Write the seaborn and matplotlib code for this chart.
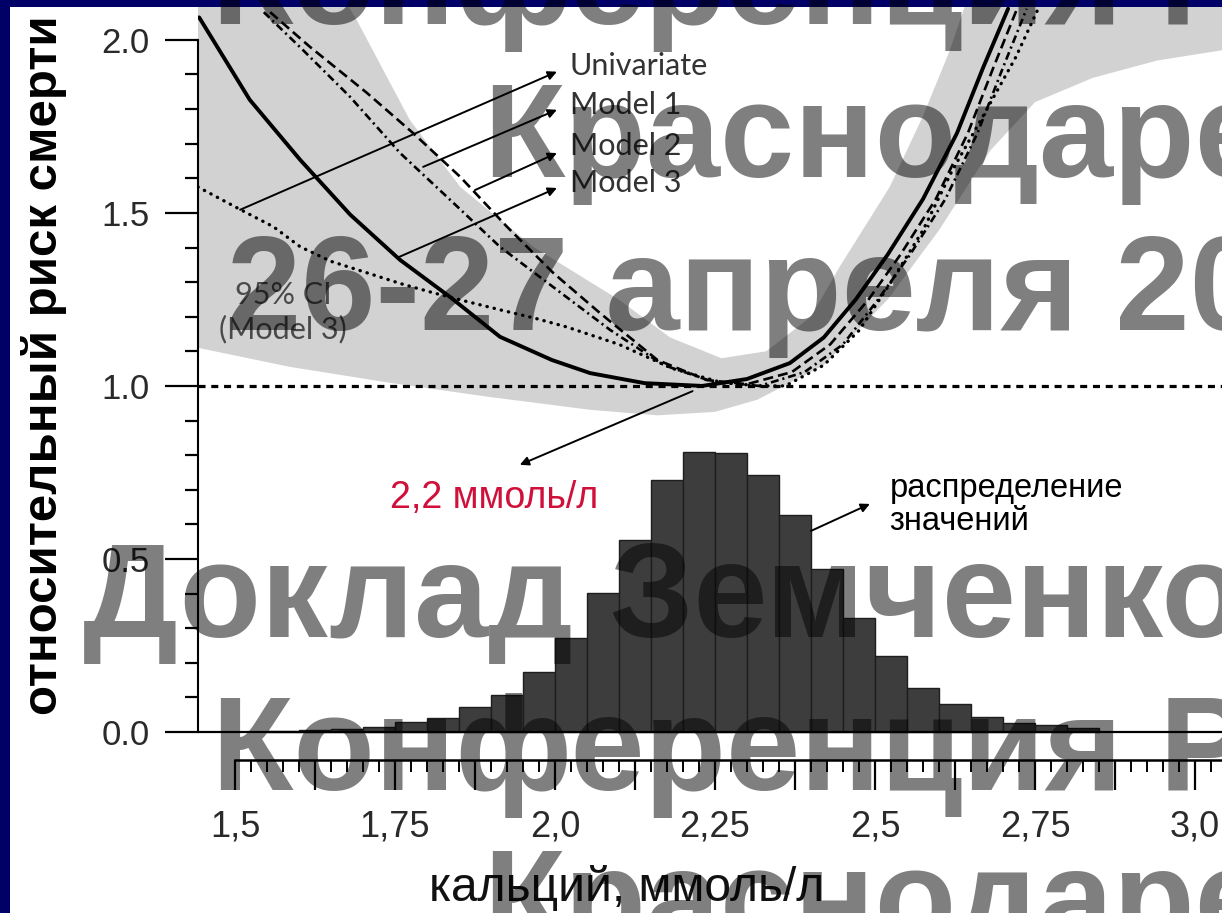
import numpy as np
import pandas as pd
import matplotlib.pyplot as plt
import matplotlib.ticker as mticker
from matplotlib.patches import Rectangle
import seaborn as sns

# ---- values ----
# histogram of calcium values (bin centre, bar height on the risk axis)
hist_centers = [1.575, 1.625, 1.675, 1.725, 1.775, 1.825, 1.875, 1.925, 1.975,
                2.025, 2.075, 2.125, 2.175, 2.225, 2.275, 2.325, 2.375, 2.425,
                2.475, 2.525, 2.575, 2.625, 2.675, 2.725, 2.775, 2.825]
hist_heights = [0.003, 0.005, 0.008, 0.015, 0.03, 0.04, 0.072, 0.107, 0.173,
                0.272, 0.402, 0.555, 0.728, 0.809, 0.806, 0.743, 0.627, 0.47,
                0.33, 0.22, 0.128, 0.08, 0.042, 0.026, 0.02, 0.012]

# univariate (dotted)
univ_x = [1.442, 1.508, 1.56, 1.602, 1.65, 1.706, 1.76, 1.81, 1.86, 1.914, 1.97,
          2.019, 2.10, 2.184, 2.26, 2.32, 2.36, 2.42, 2.475, 2.525, 2.575, 2.62,
          2.675, 2.72, 2.755]
univ_y = [1.575, 1.51, 1.46, 1.402, 1.36, 1.327, 1.295, 1.269, 1.245, 1.22, 1.195,
          1.17, 1.12, 1.05, 1.01, 1.0, 1.0, 1.06, 1.16, 1.30, 1.45, 1.62,
          1.80, 1.95, 2.09]
# model 1 (dashed)
m1_x = [1.555, 1.617, 1.706, 1.778, 1.852, 1.925, 1.997, 2.07, 2.16, 2.237, 2.30,
        2.37, 2.43, 2.49, 2.54, 2.595, 2.645, 2.685, 2.722]
m1_y = [2.08, 1.98, 1.847, 1.731, 1.604, 1.46, 1.327, 1.211, 1.075, 1.017, 1.005,
        1.04, 1.12, 1.25, 1.38, 1.54, 1.73, 1.92, 2.09]
# model 2 (dash-dot)
m2_x = [1.545, 1.606, 1.68, 1.758, 1.836, 1.914, 1.997, 2.086, 2.17, 2.25, 2.32,
        2.39, 2.45, 2.505, 2.555, 2.61, 2.66, 2.70, 2.737]
m2_y = [2.08, 1.971, 1.835, 1.673, 1.538, 1.402, 1.286, 1.162, 1.06, 1.01, 1.0,
        1.04, 1.12, 1.25, 1.38, 1.54, 1.73, 1.92, 2.09]
# model 3 (solid)
m3_x = [1.444, 1.523, 1.602, 1.68, 1.758, 1.836, 1.914, 1.995, 2.055, 2.14, 2.23,
        2.30, 2.367, 2.42, 2.47, 2.52, 2.575, 2.628, 2.669, 2.708]
m3_y = [2.065, 1.827, 1.653, 1.495, 1.364, 1.257, 1.142, 1.075, 1.037, 1.008, 1.0,
        1.02, 1.066, 1.14, 1.25, 1.38, 1.54, 1.73, 1.92, 2.09]

# 95% CI of model 3 (grey band)
ci_up_x = [1.4422, 1.66, 1.69, 1.773, 1.852, 1.966, 2.10, 2.18, 2.26, 2.33, 2.40,
           2.445, 2.523, 2.575, 2.617, 2.65, 3.0422]
ci_up_y = [2.2, 2.15, 2.058, 1.769, 1.575, 1.402, 1.249, 1.14, 1.08, 1.10, 1.2,
           1.345, 1.575, 1.78, 1.97, 2.15, 2.2]
ci_lo_x = [1.4422, 1.586, 1.742, 1.898, 2.055, 2.16, 2.25, 2.316, 2.42, 2.52, 2.60,
           2.68, 2.75, 2.84, 2.94, 3.0422]
ci_lo_y = [1.11, 1.055, 1.009, 0.968, 0.931, 0.915, 0.925, 0.96, 1.06, 1.25, 1.45,
           1.68, 1.82, 1.89, 1.94, 1.97]

legend_labels = ["Univariate", "Model 1", "Model 2", "Model 3"]
legend_y = [1.925, 1.812, 1.692, 1.587]
arrow_start = [(1.508, 1.509), (1.794, 1.633), (1.875, 1.566), (1.753, 1.37)]
arrow_end_y = [1.908, 1.798, 1.673, 1.572]

x_ticks = [1.5, 1.625, 1.75, 1.875, 2.0, 2.125, 2.25, 2.375, 2.5, 2.625, 2.75, 2.875, 3.0]
x_ticklabels = ["1,5", "", "1,75", "", "2,0", "", "2,25", "", "2,5", "", "2,75", "", "3,0"]
y_ticks = [0.0, 0.5, 1.0, 1.5, 2.0]
y_ticklabels = ["0.0", "0.5", "1.0", "1.5", "2.0"]

watermark = ["Конференция Р", "Краснодаре", "26-27 апреля 20",
             "Доклад Земченко", "Конференция Р", "Краснодаре"]
wm_left = [212, 483, 227, 83, 212, 483]      # pixels
wm_base = [24, 177, 330, 637, 790, 943]

# ---- drawing ----
sns.set_theme(style="ticks")
plt.rcParams['font.family'] = ['Liberation Sans', 'DejaVu Sans']

W, H = 1222, 913
fig = plt.figure(figsize=(W / 100, H / 100), dpi=100, facecolor='#000066')
fig.add_artist(Rectangle((10 / W, 0), 1, 1 - 7 / H, transform=fig.transFigure,
                         facecolor='white', edgecolor='none', zorder=-10))

ax = fig.add_axes([198 / W, (H - 760) / H, (W - 198) / W, 753 / H])
ax.set_facecolor('white')

# CI band
band_x = ci_up_x + ci_lo_x[::-1]
band_y = ci_up_y + ci_lo_y[::-1]
ax.fill(band_x, band_y, color='#d2d2d2', lw=0, zorder=1)

# histogram of values
df_hist = pd.DataFrame({'ca': hist_centers, 'h': hist_heights})
sns.histplot(data=df_hist, x='ca', weights='h', binwidth=0.05, binrange=(1.55, 2.85),
             ax=ax, color='#3d3d3d', edgecolor='#1e1e1e', linewidth=1, alpha=1)

ax.axhline(0, color='black', lw=1.6, zorder=3)
ax.axhline(1.0, color='black', lw=2.3, linestyle=(0, (2.2, 1.8)), zorder=3)

sns.lineplot(x=univ_x, y=univ_y, ax=ax, color='black', lw=2.4, errorbar=None,
             linestyle=(0, (0.1, 2.1)), dash_capstyle='round', zorder=4)
sns.lineplot(x=m1_x, y=m1_y, ax=ax, color='black', lw=1.9, errorbar=None,
             linestyle=(0, (3.8, 1.9)), zorder=4)
sns.lineplot(x=m2_x, y=m2_y, ax=ax, color='black', lw=1.9, errorbar=None,
             linestyle=(0, (3.0, 1.5, 0.8, 1.5)), zorder=4)
sns.lineplot(x=m3_x, y=m3_y, ax=ax, color='black', lw=2.8, errorbar=None, zorder=5)

ax.set_xlim(1.4422, 3.0422)
ax.set_ylim(-0.081, 2.095)
ax.set_xlabel('')
ax.set_ylabel('')

for s in ['top', 'right']:
    ax.spines[s].set_visible(False)
ax.spines['left'].set_bounds(0, 2.0)
ax.spines['bottom'].set_bounds(1.5, 3.0422)
ax.spines['left'].set_linewidth(1.5)
ax.spines['bottom'].set_linewidth(1.8)
ax.spines['left'].set_color('black')
ax.spines['bottom'].set_color('black')

ax.yaxis.set_major_locator(mticker.FixedLocator(y_ticks))
ax.yaxis.set_major_formatter(mticker.FixedFormatter(y_ticklabels))
ax.yaxis.set_minor_locator(mticker.MultipleLocator(0.1))
ax.xaxis.set_major_locator(mticker.FixedLocator(x_ticks))
ax.xaxis.set_major_formatter(mticker.FixedFormatter(x_ticklabels))
ax.xaxis.set_minor_locator(mticker.FixedLocator(np.arange(1.5, 3.045, 0.025)))

ax.tick_params(axis='y', which='major', direction='out', length=24, width=1.6,
               pad=11, labelsize=25, labelcolor='#2a2a2a', color='black')
ax.tick_params(axis='y', which='minor', direction='out', length=9.5, width=1.6, color='black')
ax.tick_params(axis='x', which='major', direction='out', length=21.6, width=1.6,
               pad=14, labelsize=26, labelcolor='#2a2a2a', color='black')
ax.tick_params(axis='x', which='minor', direction='out', length=8.6, width=1.4, color='black')

# legend labels with arrows
for lab, ly, (sx, sy), ey in zip(legend_labels, legend_y, arrow_start, arrow_end_y):
    ax.annotate('', xy=(2.003, ey), xytext=(sx, sy),
                arrowprops=dict(arrowstyle='-|>', color='black', lw=1.4,
                                mutation_scale=13, shrinkA=0, shrinkB=0), zorder=6)
    ax.text(2.023, ly, lab, fontsize=22, family=['Lato', 'DejaVu Sans'],
            color='#333333', va='center', ha='left', zorder=6)

ax.text(1.575, 1.214, "95% CI\n(Model 3)", fontsize=22, family=['Lato', 'DejaVu Sans'],
        color='#4a4a4a', ha='center', va='center', linespacing=1.25, zorder=6)

ax.annotate('', xy=(1.945, 0.772), xytext=(2.215, 0.985),
            arrowprops=dict(arrowstyle='-|>', color='black', lw=1.4,
                            mutation_scale=13, shrinkA=0, shrinkB=0), zorder=6)
ax.text(1.905, 0.676, "2,2 ммоль/л", fontsize=27, color='#d0103a',
        ha='center', va='center', zorder=6)

ax.annotate('', xy=(2.492, 0.659), xytext=(2.40, 0.581),
            arrowprops=dict(arrowstyle='-|>', color='black', lw=1.4,
                            mutation_scale=13, shrinkA=0, shrinkB=0), zorder=6)
ax.text(2.523, 0.656, "распределение\nзначений", fontsize=23.5, color='black',
        ha='left', va='center', linespacing=1.1, zorder=6)

fig.text(44 / W, 1 - 365 / H, "относительный риск смерти", rotation=90,
         fontsize=35.5, weight='bold', color='black', ha='center', va='center')
fig.text(627 / W, 1 - 901 / H, "кальций, ммоль/л", fontsize=34.5, color='#111111',
         ha='center', va='baseline')

# watermark lines over the slide
for txt, lx, by in zip(watermark, wm_left, wm_base):
    fig.text(lx / W, 1 - by / H, txt, fontsize=96, weight='bold', color='black',
             alpha=0.5, ha='left', va='baseline', zorder=10)

fig.savefig('out.png', dpi=100, facecolor=fig.get_facecolor())
